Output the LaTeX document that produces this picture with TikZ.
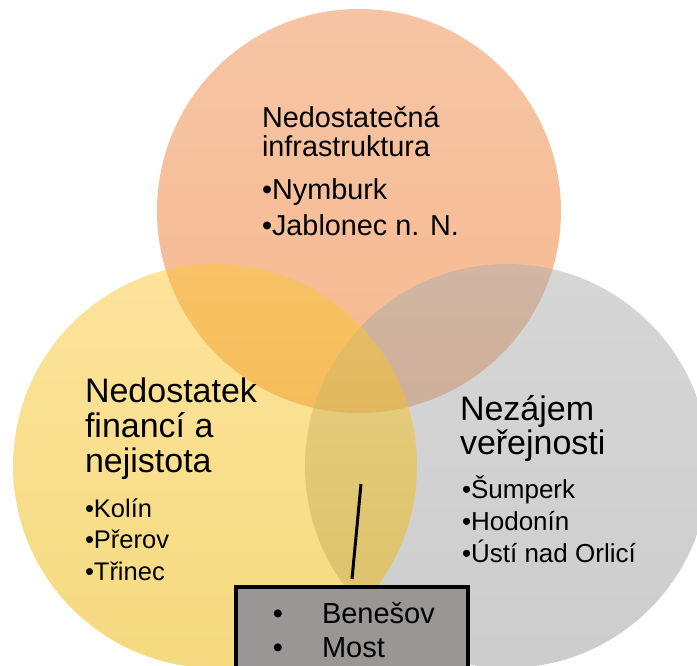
\documentclass[tikz,border=0pt]{standalone}
\usepackage{fontspec}
\setmainfont{Liberation Sans}
\definecolor{orangetop}{HTML}{EE8A4A}
\definecolor{orangebot}{HTML}{EC7420}
\definecolor{yellowtop}{HTML}{FCC838}
\definecolor{yellowbot}{HTML}{EBB500}
\definecolor{graytop}{HTML}{AEAEAE}
\definecolor{graybot}{HTML}{9B9B9B}
\definecolor{boxgray}{HTML}{9A9696}
\begin{document}
\begin{tikzpicture}[x=1pt,y=-1pt,
  venn/.style={fill opacity=0.5},
  txt/.style={anchor=base west, inner sep=0pt, outer sep=0pt},
  topf/.style={txt, font=\fontsize{28.8}{29}\selectfont},
  bigf/.style={txt, font=\fontsize{34}{35}\selectfont},
  leftitem/.style={txt, font=\fontsize{25.5}{31}\selectfont},
  rightitem/.style={txt, font=\fontsize{26}{32}\selectfont},
  boxf/.style={txt, font=\fontsize{29}{34}\selectfont},
  boxbul/.style={anchor=base, inner sep=0pt, font=\fontsize{29}{34}\selectfont},
  listbox/.style={draw=black, line width=4pt, fill=boxgray, anchor=north west,
    minimum width=232pt, minimum height=120pt, inner sep=0pt},
  connector/.style={draw=black, line width=3pt}
]
\useasboundingbox (0,0) rectangle (697,666);
\clip (0,0) rectangle (697,666);

% circles
\shade[venn, top color=orangetop, bottom color=orangebot] (359,211) circle (202pt);
\shade[venn, top color=graytop, bottom color=graybot] (507,466) circle (202pt);
\shade[venn, top color=yellowtop, bottom color=yellowbot] (215,466) circle (202pt);

% top circle text
\node[topf] (t1) at (262,128) {Nedostatečná};
\node[topf] (t2) at (262,157) {infrastruktura};
\node[topf] (t3) at (262,200) {•Nymburk};
\node[topf] (t4) at (262,236) {•Jablonec n. N.};

% left circle text
\node[bigf] (l1) at (85,402) {Nedostatek};
\node[bigf] (l2) at (85,437) {financí a};
\node[bigf] (l3) at (85,472) {nejistota};
\node[leftitem] (l4) at (85,517) {•Kolín};
\node[leftitem] (l5) at (85,548) {•Přerov};
\node[leftitem] (l6) at (85,580) {•Třinec};

% right circle text
\node[bigf] (r1) at (460,420) {Nezájem};
\node[bigf] (r2) at (460,454) {veřejnosti};
\node[rightitem] (r3) at (462,498) {•Šumperk};
\node[rightitem] (r4) at (462,530) {•Hodonín};
\node[rightitem] (r5) at (462,562) {•Ústí nad Orlicí};

% connector and box
\coordinate (ctop) at (361,484);
\coordinate (cbot) at (352,579);
\draw[connector] (ctop) -- (cbot);
\node[listbox] (box) at (234,585) {};
\node[boxbul] (b1) at (278,623) {•};
\node[boxf] (b2) at (322,623) {Benešov};
\node[boxbul] (b3) at (278,657) {•};
\node[boxf] (b4) at (322,657) {Most};
\end{tikzpicture}
\end{document}
